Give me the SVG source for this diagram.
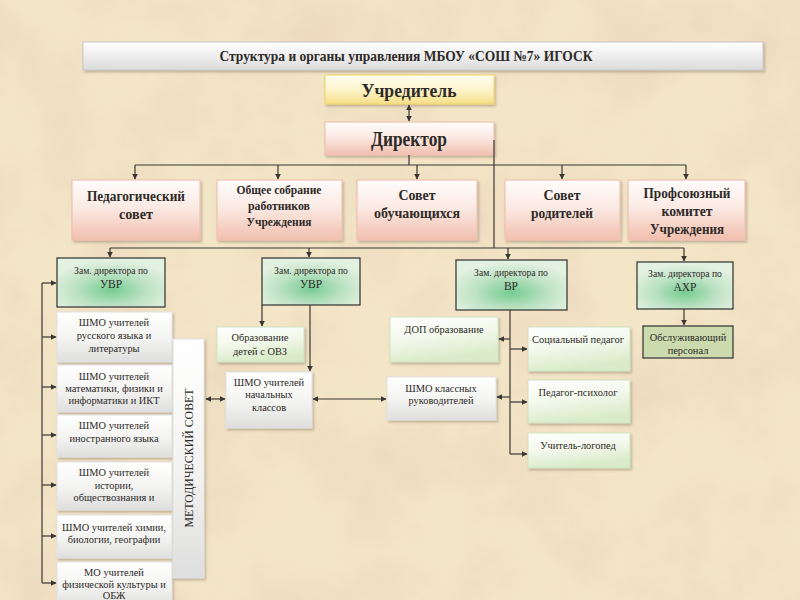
<svg xmlns="http://www.w3.org/2000/svg" width="800" height="600" viewBox="0 0 800 600">
<defs>
<filter id="paper" x="0" y="0" width="100%" height="100%">
<feTurbulence type="fractalNoise" baseFrequency="0.012" numOctaves="4" seed="7" result="n"/>
<feColorMatrix in="n" type="matrix" values="0 0 0 0 0.82  0 0 0 0 0.64  0 0 0 0 0.48  0 0 0 -1.1 0.72"/>
</filter>
<filter id="sh" x="-10%" y="-10%" width="130%" height="140%">
<feDropShadow dx="1.5" dy="2" stdDeviation="1.2" flood-color="#6b5a40" flood-opacity="0.35"/>
</filter>
<linearGradient id="gTitle" x1="0" y1="0" x2="0" y2="1"><stop offset="0" stop-color="#ffffff"/><stop offset="1" stop-color="#dcdcdc"/></linearGradient>
<linearGradient id="gYellow" x1="0" y1="0" x2="0" y2="1"><stop offset="0" stop-color="#fffdf0"/><stop offset="0.5" stop-color="#fdf4cc"/><stop offset="1" stop-color="#f6df86"/></linearGradient>
<linearGradient id="gPink" x1="0" y1="0" x2="0" y2="1"><stop offset="0" stop-color="#fffdfb"/><stop offset="0.45" stop-color="#fbeae4"/><stop offset="1" stop-color="#f1bfae"/></linearGradient>
<radialGradient id="gGreen" cx="0.5" cy="0.65" r="0.6"><stop offset="0" stop-color="#76cc92"/><stop offset="0.55" stop-color="#bde2c4"/><stop offset="1" stop-color="#e2f1e0"/></radialGradient>
<linearGradient id="gLight" x1="0" y1="0" x2="0.3" y2="1"><stop offset="0" stop-color="#ffffff"/><stop offset="0.5" stop-color="#f3f8ec"/><stop offset="1" stop-color="#d9ebc9"/></linearGradient>
<linearGradient id="gGray" x1="0" y1="0" x2="0" y2="1"><stop offset="0" stop-color="#ffffff"/><stop offset="0.55" stop-color="#f3f3f1"/><stop offset="1" stop-color="#dedede"/></linearGradient>
<marker id="ah" viewBox="0 0 10 10" refX="9" refY="5" markerWidth="6" markerHeight="6" orient="auto-start-reverse" markerUnits="userSpaceOnUse">
<path d="M0,0 L10,5 L0,10 z" fill="#3a3632"/>
</marker>
</defs>
<style>
text{font-family:"Liberation Serif","Times New Roman",serif;fill:#2e2a28;text-anchor:middle}
.b{font-weight:bold}
.t1{font-size:15px}
.big{font-size:19px}
.mid{font-size:15px}
.sm{font-size:12.5px}
.xs{font-size:9.6px}
.u{font-size:11.5px}
.s11{font-size:10.4px}
.box{filter:url(#sh)}
.title{fill:url(#gTitle);stroke:#c8c8c8;stroke-width:1}
.yel{fill:url(#gYellow);stroke:#f0d878;stroke-width:1.2}
.pink{fill:url(#gPink);stroke:#efc2b2;stroke-width:1.2}
.green{fill:url(#gGreen);stroke:#2f2f2f;stroke-width:1.2}
.light{fill:url(#gLight);stroke:#cfe3bf;stroke-width:1}
.gray{fill:url(#gGray);stroke:#e2e2e2;stroke-width:1}
.olive{fill:#cbdbae;stroke:#2f2f2f;stroke-width:1.2}
.ln{fill:none;stroke:#3a3632;stroke-width:1.2}
.ar{marker-end:url(#ah)}
.da{marker-start:url(#ah);marker-end:url(#ah)}
</style>

<rect width="800" height="600" fill="#f3e6c7"/>
<rect width="800" height="600" filter="url(#paper)"/>

<g id="title"><rect class="box title" x="83" y="42" width="680" height="28"/><text class="b t1" x="406" y="61" textLength="373" lengthAdjust="spacingAndGlyphs">Структура и органы управления МБОУ «СОШ №7» ИГОСК</text></g>
<g id="uchreditel"><rect class="box yel" x="325" y="75" width="169" height="29"/><text class="b big" x="409" y="97" textLength="95" lengthAdjust="spacingAndGlyphs">Учредитель</text></g>
<g id="direktor"><rect class="box pink" x="325" y="122" width="169" height="33"/><text class="b big" x="409" y="146" style="font-size:20px" textLength="76" lengthAdjust="spacingAndGlyphs">Директор</text></g>

<g id="ped-sovet"><rect class="box pink" x="72" y="180" width="128" height="60"/><text class="b mid" x="136" y="201" textLength="98" lengthAdjust="spacingAndGlyphs">Педагогический</text><text class="b mid" x="136" y="219" textLength="34" lengthAdjust="spacingAndGlyphs">совет</text></g>
<g id="obshee"><rect class="box pink" x="217" y="180" width="125" height="60"/><text class="b sm" x="279" y="194" textLength="85" lengthAdjust="spacingAndGlyphs">Общее собрание</text><text class="b sm" x="279" y="210" textLength="62" lengthAdjust="spacingAndGlyphs">работников</text><text class="b sm" x="279" y="226" textLength="65" lengthAdjust="spacingAndGlyphs">Учреждения</text></g>
<g id="sovet-obuch"><rect class="box pink" x="357" y="180" width="120" height="60"/><text class="b mid" x="417" y="200" textLength="37" lengthAdjust="spacingAndGlyphs">Совет</text><text class="b mid" x="417" y="218" textLength="86" lengthAdjust="spacingAndGlyphs">обучающихся</text></g>
<g id="sovet-rod"><rect class="box pink" x="505" y="180" width="115" height="60"/><text class="b mid" x="562" y="200" textLength="37" lengthAdjust="spacingAndGlyphs">Совет</text><text class="b mid" x="562" y="218" textLength="62" lengthAdjust="spacingAndGlyphs">родителей</text></g>
<g id="profkom"><rect class="box pink" x="628" y="180" width="117" height="60"/><text class="b mid" x="687" y="198" textLength="87" lengthAdjust="spacingAndGlyphs">Профсоюзный</text><text class="b mid" x="687" y="216" textLength="51" lengthAdjust="spacingAndGlyphs">комитет</text><text class="b mid" x="687" y="234" textLength="74" lengthAdjust="spacingAndGlyphs">Учреждения</text></g>

<g id="zam-uvr1"><rect class="green" x="57" y="258" width="108" height="49"/><text class="xs" x="111" y="274">Зам. директора по</text><text class="u" x="111" y="288">УВР</text></g>
<g id="zam-uvr2"><rect class="green" x="262" y="258" width="98" height="47"/><text class="xs" x="311" y="274">Зам. директора по</text><text class="u" x="311" y="288">УВР</text></g>
<g id="zam-vr"><rect class="green" x="456" y="260" width="111" height="50"/><text class="xs" x="511" y="276">Зам. директора по</text><text class="u" x="511" y="290">ВР</text></g>
<g id="zam-ahr"><rect class="green" x="637" y="262" width="96" height="47"/><text class="xs" x="685" y="277">Зам. директора по</text><text class="u" x="685" y="291">АХР</text></g>

<g id="shmo-rus"><rect class="box gray" x="57" y="312" width="115" height="50"/><text class="s11" x="114" y="326">ШМО учителей</text><text class="s11" x="114" y="339">русского языка и</text><text class="s11" x="114" y="352">литературы</text></g>
<g id="shmo-mat"><rect class="box gray" x="57" y="365" width="115" height="47"/><text class="s11" x="114" y="380">ШМО учителей</text><text class="s11" x="114" y="392">математики, физики и</text><text class="s11" x="114" y="404">информатики и ИКТ</text></g>
<g id="shmo-in"><rect class="box gray" x="57" y="415" width="115" height="42"/><text class="s11" x="114" y="429">ШМО учителей</text><text class="s11" x="114" y="442">иностранного языка</text></g>
<g id="shmo-ist"><rect class="box gray" x="57" y="462" width="115" height="48"/><text class="s11" x="114" y="476">ШМО учителей</text><text class="s11" x="114" y="489">истории,</text><text class="s11" x="114" y="501">обществознания и</text></g>
<g id="shmo-him"><rect class="box gray" x="57" y="515" width="115" height="43"/><text class="s11" x="114" y="531">ШМО учителей химии,</text><text class="s11" x="114" y="543">биологии, географии</text></g>
<g id="mo-fiz"><rect class="box gray" x="57" y="562" width="115" height="45"/><text class="s11" x="114" y="576">МО учителей</text><text class="s11" x="114" y="588">физической культуры и</text><text class="s11" x="114" y="599">ОБЖ</text></g>

<g id="metod"><rect class="box gray" x="173" y="339" width="31" height="239"/><text class="sm" transform="translate(193,458) rotate(-90)" x="0" y="0" style="font-size:12px" textLength="139" lengthAdjust="spacingAndGlyphs">МЕТОДИЧЕСКИЙ СОВЕТ</text></g>

<g id="ovz"><rect class="box light" x="217" y="327" width="87" height="35"/><text class="s11" x="260" y="341">Образование</text><text class="s11" x="260" y="355">детей с ОВЗ</text></g>
<g id="shmo-nach"><rect class="box gray" x="226" y="372" width="86" height="56"/><text class="s11" x="269" y="386">ШМО учителей</text><text class="s11" x="269" y="398">начальных</text><text class="s11" x="269" y="411">классов</text></g>
<g id="dop"><rect class="box light" x="390" y="317" width="108" height="45"/><text class="s11" x="444" y="333">ДОП образование</text></g>
<g id="shmo-kl"><rect class="box gray" x="387" y="377" width="109" height="43"/><text class="s11" x="441" y="392">ШМО классных</text><text class="s11" x="441" y="404">руководителей</text></g>
<g id="soc-ped"><rect class="box light" x="528" y="327" width="102" height="44"/><text class="s11" x="578" y="343">Социальный педагог</text></g>
<g id="psiholog"><rect class="box light" x="528" y="380" width="102" height="43"/><text class="s11" x="578" y="396">Педагог-психолог</text></g>
<g id="logoped"><rect class="box light" x="528" y="433" width="102" height="35"/><text class="s11" x="578" y="449">Учитель-логопед</text></g>
<g id="obsl"><rect class="olive" x="643" y="326" width="90" height="32"/><text class="s11" x="688" y="341">Обслуживающий</text><text class="s11" x="688" y="354">персонал</text></g>

<g id="connectors">
<line class="ln da" x1="409" y1="105" x2="409" y2="121"/>
<polyline class="ln" points="409,155 409,165"/>
<line class="ln" x1="135" y1="165" x2="686" y2="165"/>
<line class="ln ar" x1="135" y1="165" x2="135" y2="179"/>
<line class="ln ar" x1="278" y1="165" x2="278" y2="179"/>
<line class="ln ar" x1="417" y1="165" x2="417" y2="179"/>
<line class="ln ar" x1="562" y1="165" x2="562" y2="179"/>
<line class="ln ar" x1="686" y1="165" x2="686" y2="179"/>
<line class="ln" x1="494" y1="140" x2="494" y2="248"/>
<line class="ln" x1="110" y1="248" x2="684" y2="248"/>
<line class="ln ar" x1="110" y1="248" x2="110" y2="257"/>
<line class="ln ar" x1="309" y1="248" x2="309" y2="257"/>
<line class="ln ar" x1="508" y1="248" x2="508" y2="259"/>
<line class="ln ar" x1="684" y1="248" x2="684" y2="261"/>
<line class="ln" x1="42" y1="283" x2="42" y2="583"/>
<line class="ln ar" x1="42" y1="283" x2="56" y2="283"/>
<line class="ln ar" x1="42" y1="337" x2="56" y2="337"/>
<line class="ln ar" x1="42" y1="387" x2="56" y2="387"/>
<line class="ln ar" x1="42" y1="435" x2="56" y2="435"/>
<line class="ln ar" x1="42" y1="485" x2="56" y2="485"/>
<line class="ln ar" x1="42" y1="536" x2="56" y2="536"/>
<line class="ln ar" x1="42" y1="583" x2="56" y2="583"/>
<line class="ln ar" x1="262" y1="305" x2="262" y2="326"/>
<line class="ln ar" x1="310" y1="305" x2="310" y2="371"/>
<line class="ln da" x1="206" y1="399" x2="225" y2="399"/>
<line class="ln da" x1="313" y1="399" x2="386" y2="399"/>
<line class="ln" x1="510" y1="310" x2="510" y2="454"/>
<line class="ln ar" x1="510" y1="339" x2="499" y2="339"/>
<line class="ln ar" x1="510" y1="397" x2="497" y2="397"/>
<line class="ln ar" x1="510" y1="349" x2="527" y2="349"/>
<line class="ln ar" x1="510" y1="402" x2="527" y2="402"/>
<line class="ln ar" x1="510" y1="454" x2="527" y2="454"/>
<line class="ln ar" x1="684" y1="309" x2="684" y2="325"/>
</g>
</svg>
